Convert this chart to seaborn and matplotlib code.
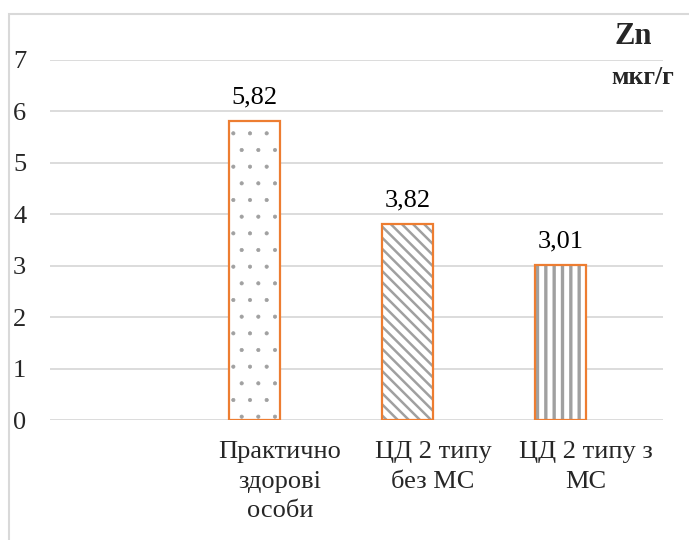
import numpy as np
import pandas as pd
import seaborn as sns
import matplotlib.pyplot as plt
from matplotlib.patches import Rectangle

# Chart data (first category slot is empty in the original)
categories = ["", "Практично\nздорові\nособи", "ЦД 2 типу\nбез МС", "ЦД 2 типу з\nМС"]
zn_values = [np.nan, 5.82, 3.82, 3.01]
empty_values = [np.nan, np.nan, np.nan, np.nan]
series = ["Zn", "empty"]
bar_hatches = [".", "\\\\\\", "||"]
hatch_widths = [0.5, 1.8, 2.4]

sns.set_theme(style="white")
plt.rcParams['font.family'] = ['Liberation Serif', 'DejaVu Serif']
plt.rcParams['hatch.linewidth'] = 1.6

df = pd.DataFrame({
    "cat": categories * 2,
    "value": zn_values + empty_values,
    "series": [series[0]] * 4 + [series[1]] * 4,
})

orange = "#ED7D31"
fig = plt.figure(figsize=(6.89, 5.4), dpi=100)
ax = fig.add_axes([0.0726, 0.2222, 0.8894, 0.6667])

# hatched fill
sns.barplot(data=df, x="cat", y="value", hue="series", order=categories,
            hue_order=series, palette={"Zn": "white", "empty": "white"},
            width=2 / 3, edgecolor="#a0a0a0", linewidth=0, legend=False,
            errorbar=None, ax=ax)
zn_cont = ax.containers[0]
bars = [p for p in zn_cont.patches if np.isfinite(p.get_height()) and p.get_height() > 0]
for p, h, lw in zip(bars, bar_hatches, hatch_widths):
    p.set_hatch(h)
    if hasattr(p, "set_hatch_linewidth"):
        p.set_hatch_linewidth(lw)

# orange outlines
sns.barplot(data=df, x="cat", y="value", hue="series", order=categories,
            hue_order=series, palette={"Zn": orange, "empty": orange},
            width=2 / 3, fill=False, linewidth=1.6, legend=False,
            errorbar=None, ax=ax)

labels = []
for p in zn_cont.patches:
    h = p.get_height()
    labels.append(f"{h:.2f}".replace(".", ",") if np.isfinite(h) and h > 0 else "")
ax.bar_label(zn_cont, labels=labels, padding=9, fontsize=19, color="#000000")

ax.set_ylim(0, 7)
ax.set_yticks(range(0, 8))
ax.yaxis.grid(True, color="#d9d9d9", linewidth=1.3)
ax.set_axisbelow(True)
for s in ax.spines.values():
    s.set_visible(False)
ax.set_xlabel("")
ax.set_ylabel("")
ax.tick_params(axis="y", labelsize=19, length=0)
ax.tick_params(axis="x", labelsize=19, length=0, pad=15)
for t in ax.get_yticklabels():
    t.set_horizontalalignment("left")
for t in ax.get_xticklabels():
    t.set_linespacing(1.46)
ax.yaxis.set_tick_params(pad=26.6)

ax.text(0.951, 1.064, "Zn", transform=ax.transAxes, ha="center", va="center",
        fontsize=22, fontweight="bold")
ax.text(0.967, 0.95, "мкг/г", transform=ax.transAxes, ha="center", va="center",
        fontsize=18.5, fontweight="bold")

# chart border
fig.patches.append(Rectangle((9 / 689, -0.1), 1.1, 1.1 - 14 / 540,
                             transform=fig.transFigure, fill=False,
                             edgecolor="#d9d9d9", linewidth=1.5))

fig.savefig("out.png", dpi=100)
